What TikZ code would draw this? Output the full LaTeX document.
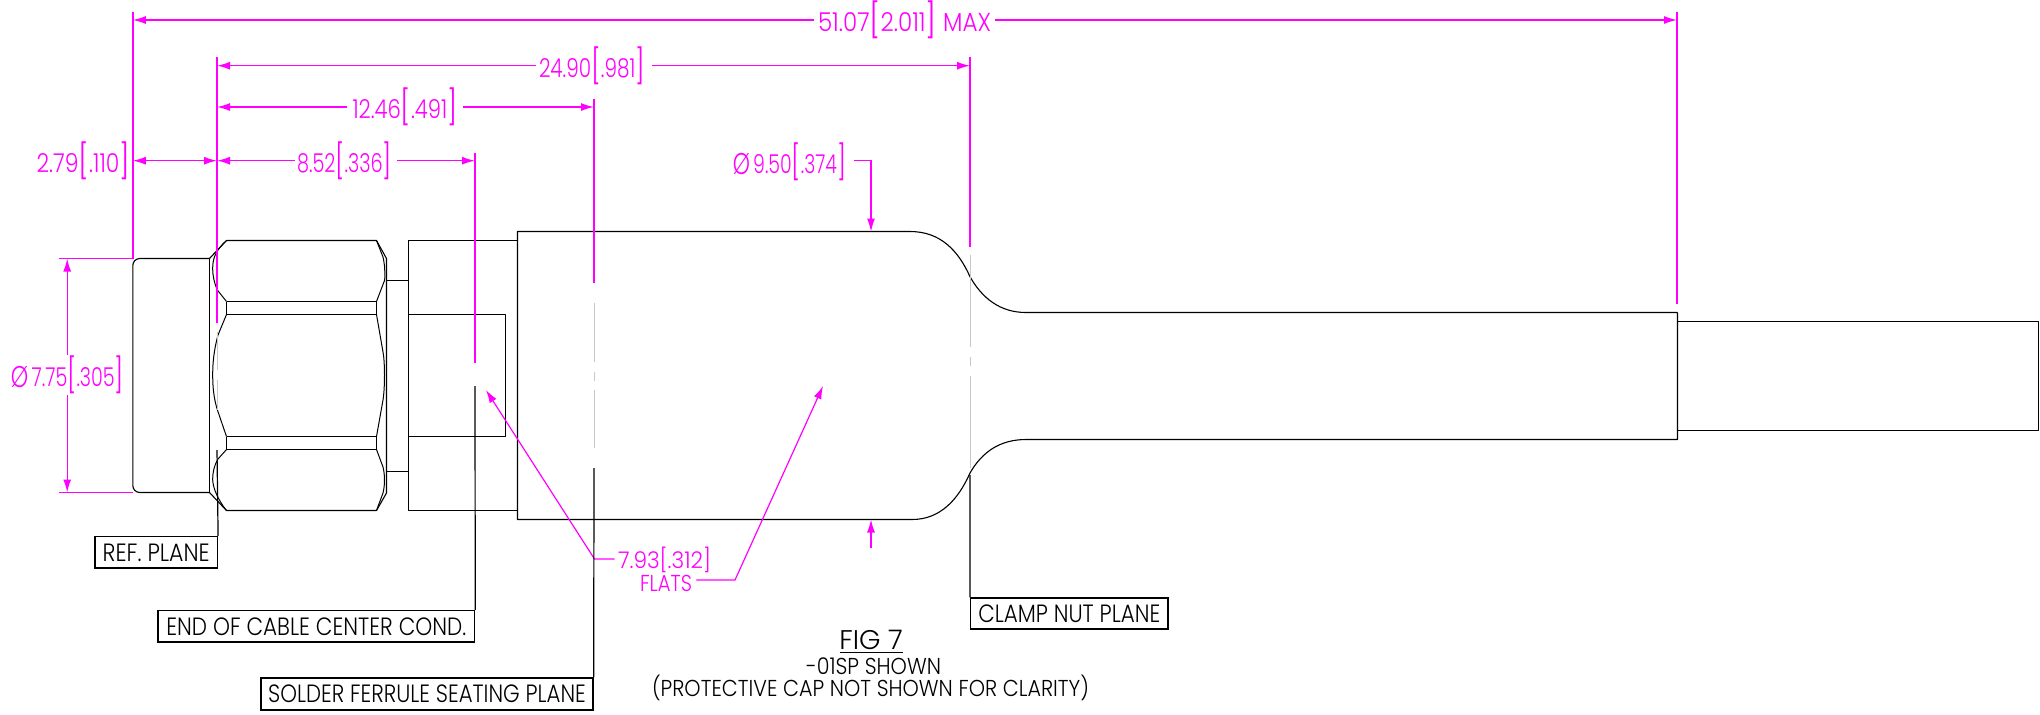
\documentclass[tikz,border=0pt]{standalone}
\usepackage{fontspec}
\usepackage{graphicx}
\usetikzlibrary{arrows.meta}
\setmainfont{Poppins}[UprightFont=* Light]
\newdimen\pxu \pxu=0.5pt
\newcommand{\fitw}[2]{\resizebox{#1\pxu}{\height}{#2}}
\newcommand{\bigbr}[1]{{\fontsize{17pt}{17pt}\selectfont\raisebox{-0.4pt}{#1}}}
\newcommand{\bigdia}{{\fontsize{15pt}{15pt}\selectfont\raisebox{-0.4pt}{Ø}}}
\newcommand{\dimt}[2]{#1\bigbr{[}#2\bigbr{]}}
\definecolor{dimc}{RGB}{255,0,255}
\definecolor{phant}{RGB}{200,200,200}
\tikzset{
  part/.style={draw=black,line width=0.55pt,line join=round},
  thin part/.style={draw=black,line width=0.5pt},
  dimline/.style={draw=dimc,line width=0.7pt},
  extl/.style={draw=dimc,line width=0.75pt},
  leader/.style={draw=dimc,line width=0.6pt},
  phantom/.style={draw=phant,line width=0.5pt},
  planeline/.style={draw=black,line width=0.6pt},
  tipped/.style={-{Latex[length=6.5pt,width=4pt]}},
  tippedboth/.style={{Latex[length=6.5pt,width=4pt]}-{Latex[length=6.5pt,width=4pt]}},
  dimtext/.style={text=dimc,inner sep=0pt,font=\fontsize{13pt}{14pt}\selectfont},
  smalldim/.style={text=dimc,inner sep=0pt,font=\fontsize{11.5pt}{12pt}\selectfont},
  blacktext/.style={text=black,inner sep=0pt,font=\fontsize{11.5pt}{12pt}\selectfont},
  planebox/.style={draw=black,line width=0.7pt,fill=white,inner sep=0pt,text=black,font=\fontsize{12.5pt}{14pt}\selectfont},
}
\begin{document}
\begin{tikzpicture}[x=0.5pt,y=-0.5pt]
\useasboundingbox (0,0) rectangle (2040,714);
% ---- part outline
\draw[part,rounded corners=3.5pt] (209.5,258.5) -- (132.8,258.5) -- (132.8,492.5) -- (209.5,492.5);
\draw[part] (209.5,258.5) -- (209.5,492.5);
\draw[part] (209.5,258.5) -- (226.5,240.5) -- (376.5,240.5) -- (386.5,258.5) -- (386.5,493) -- (376.5,510.5) -- (226.5,510.5) -- (209.5,492.5);
\draw[thin part] (226.5,240.5) .. controls (216,250) and (212.7,258) .. (212.7,268) .. controls (212.7,276) and (214,282) .. (217.3,290) -- (226.5,301.5);
\draw[thin part] (376.5,240.5) -- (383,257) .. controls (385,266) and (385,272) .. (384.7,280) -- (376.5,301.5);
\draw[part] (226.5,301.5) -- (376.5,301.5) (226.5,314.5) -- (376.5,314.5) (226.5,301.5) -- (226.5,314.5) (376.5,301.5) -- (376.5,314.5);
\draw[thin part] (226.5,314.5) -- (218,335) .. controls (214,350) and (212.7,362) .. (212.7,375) .. controls (212.7,388) and (214,400) .. (218,411.7) -- (226.5,436.5);
\draw[thin part] (376.5,314.5) -- (383,352) .. controls (385,362) and (385,388) .. (383,400) -- (376.5,436.5);
\draw[part] (226.5,436.5) -- (376.5,436.5) (226.5,449.5) -- (376.5,449.5) (226.5,436.5) -- (226.5,449.5) (376.5,436.5) -- (376.5,449.5);
\draw[thin part] (226.5,449.5) -- (218,459) .. controls (214,466) and (212.7,472) .. (212.7,480) .. controls (213,488) and (218,500) .. (226.5,510.5);
\draw[thin part] (376.5,449.5) -- (383,467) .. controls (385,475) and (385,485) .. (383,493) -- (376.5,510.5);
\draw[part] (386.5,280.5) -- (408.5,280.5) (386.5,471.5) -- (408.5,471.5);
\draw[part] (517.5,240.5) -- (408.5,240.5) -- (408.5,510.5) -- (517.5,510.5);
\draw[part] (408.5,314.5) -- (505.5,314.5) -- (505.5,436.5) -- (408.5,436.5);
\draw[part] (1677.5,312.5) -- (1026,312.5) .. controls (1000,312.5) and (982,298) .. (970,276.7) .. controls (958,250) and (940,231.5) .. (910,231.5) -- (517.5,231.5) -- (517.5,519.5) -- (912,519.5) .. controls (940,519.5) and (958,500) .. (970,473) .. controls (982,452) and (1000,439.5) .. (1026,439.5) -- (1677.5,439.5) -- (1677.5,312.5);
\draw[part] (1677.5,321.5) -- (2038.5,321.5) -- (2038.5,430.5) -- (1677.5,430.5);
% ---- coordinates
\coordinate (e1t) at (132.8,12);   \coordinate (e1b) at (132.8,258.5);
\coordinate (e2t) at (217,57);     \coordinate (e2b) at (217,323);
\coordinate (e3t) at (475,153);    \coordinate (e3b) at (475,363);
\coordinate (e4t) at (594,99);     \coordinate (e4b) at (594,282.7);
\coordinate (e5t) at (970,57);     \coordinate (e5b) at (970,247);
\coordinate (e6t) at (1677,12);    \coordinate (e6b) at (1677,304);
% ---- phantom extension pieces
\draw[phantom] (217,332) -- (217,370) (217,380) -- (217,410);
\draw[phantom] (594,303) -- (594,362) (594,372) -- (594,381) (594,390) -- (594,448);
\draw[phantom] (970,255) -- (970,347) (970,357) -- (970,366) (970,376) -- (970,468);
% ---- labels
\node[dimtext] (t51) at (904.5,20) {\fitw{173}{\dimt{51.07}{2.011} MAX}};
\node[dimtext] (t24) at (592,65.7) {\fitw{106}{\dimt{24.90}{.981}}};
\node[dimtext] (t12) at (405,107) {\fitw{105}{\dimt{12.46}{.491}}};
\node[dimtext] (t279) at (83.3,161) {\fitw{93.4}{\dimt{2.79}{.110}}};
\node[dimtext] (t852) at (344.5,161) {\fitw{95}{\dimt{8.52}{.336}}};
\node[dimtext] (t775) at (67.5,375) {\fitw{113}{\dimt{\bigdia\,7.75}{.305}}};
\node[dimtext] (t950) at (789.5,161.7) {\fitw{113.3}{\dimt{\bigdia\,9.50}{.374}}};
\node[smalldim] (t793) at (664.5,560) {\fitw{93}{7.93[.312]}};
\node[smalldim] (tfl) at (666,583) {\fitw{52}{FLATS}};
\node[planebox,minimum width=122.4\pxu,minimum height=31.3\pxu] (ref) at (156.2,552.3) {\fitw{107}{REF. PLANE}};
\node[planebox,minimum width=316.5\pxu,minimum height=31.3\pxu] (end) at (316.3,626.3) {\fitw{300}{END OF CABLE CENTER COND.}};
\node[planebox,minimum width=332\pxu,minimum height=32\pxu] (sol) at (427,694) {\fitw{317.6}{SOLDER FERRULE SEATING PLANE}};
\node[planebox,minimum width=197.3\pxu,minimum height=31\pxu] (cla) at (1069.3,613.5) {\fitw{182}{CLAMP NUT PLANE}};
\node[blacktext,font=\fontsize{13.5pt}{14pt}\selectfont] (fig) at (871,640) {\fitw{63.5}{FIG 7}};
\draw[line width=0.6pt] (839.5,652.7) -- (903,652.7);
\node[blacktext] (sub1) at (873.5,666) {\fitw{135}{-01SP SHOWN}};
\node[blacktext] (sub2) at (870.5,688) {\fitw{437}{(PROTECTIVE CAP NOT SHOWN FOR CLARITY)}};
% ---- extension lines
\draw[extl] (e1t) -- (e1b);
\draw[extl] (e2t) -- (e2b);
\draw[extl] (e3t) -- (e3b);
\draw[extl] (e4t) -- (e4b);
\draw[extl] (e5t) -- (e5b);
\draw[extl] (e6t) -- (e6b);
\coordinate (h1a) at (59,258.5); \coordinate (h1b) at (59,492.5); \coordinate (h2b) at (132.8,492.5);
\draw[extl] (h1a) -- (e1b);
\draw[extl] (h1b) -- (h2b);
% ---- dimension arrows
\draw[dimline,tipped] (t51.west) ++(-4,0) -- (e1t |- t51);
\draw[dimline,tipped] (t51.east) ++(4,0) -- (e6t |- t51);
\draw[dimline,tipped] (t24.west) ++(-3,0) -- (e2t |- t24);
\draw[dimline,tipped] (t24.east) ++(7,0) -- (e5t |- t24);
\draw[dimline,tipped] (t12.west) ++(-4.7,0) -- (e2t |- t12);
\draw[dimline,tipped] (t12.east) ++(5.4,0) -- (e4t |- t12);
\coordinate (d2a) at (132.8,160.7); \coordinate (d2b) at (217,160.7); \coordinate (d3b) at (475,160.7);
\draw[dimline,tippedboth] (d2a) -- (d2b);
\draw[dimline,tipped] (294.6,160.7) -- (d2b);
\draw[dimline,tipped] (397,160.7) -- (d3b);
\coordinate (v1) at (67.2,258.5); \coordinate (v2) at (67.2,492.5);
\draw[dimline,tipped] (t775.north -| v1) ++(0,-1) -- (v1);
\draw[dimline,tipped] (t775.south -| v2) ++(0,1) -- (v2);
\coordinate (l1) at (871,160.7); \coordinate (l1t) at (871,231.5);
\draw[leader,tipped] (t950.east) ++(7,-1) -- (l1) -- (l1t);
\coordinate (l2) at (871,548); \coordinate (l2t) at (871,519.5);
\draw[leader,tipped] (l2) -- (l2t);
\coordinate (a1k) at (594.5,559); \coordinate (a1t) at (486,390);
\draw[leader,tipped] (t793.west) ++(-3,-1) -- (a1k) -- (a1t);
\coordinate (a2k) at (735,580); \coordinate (a2t) at (823,386);
\draw[leader,tipped] (tfl.east) ++(4,-3) -- (a2k) -- (a2t);
% ---- plane lines
\draw[planeline] (217,450) -- (ref.north east);
\draw[planeline] (475,386) -- (end.north east);
\draw[planeline] (594,468) -- (sol.north east);
\draw[planeline] (970,475) -- (cla.north west);
\end{tikzpicture}
\end{document}
